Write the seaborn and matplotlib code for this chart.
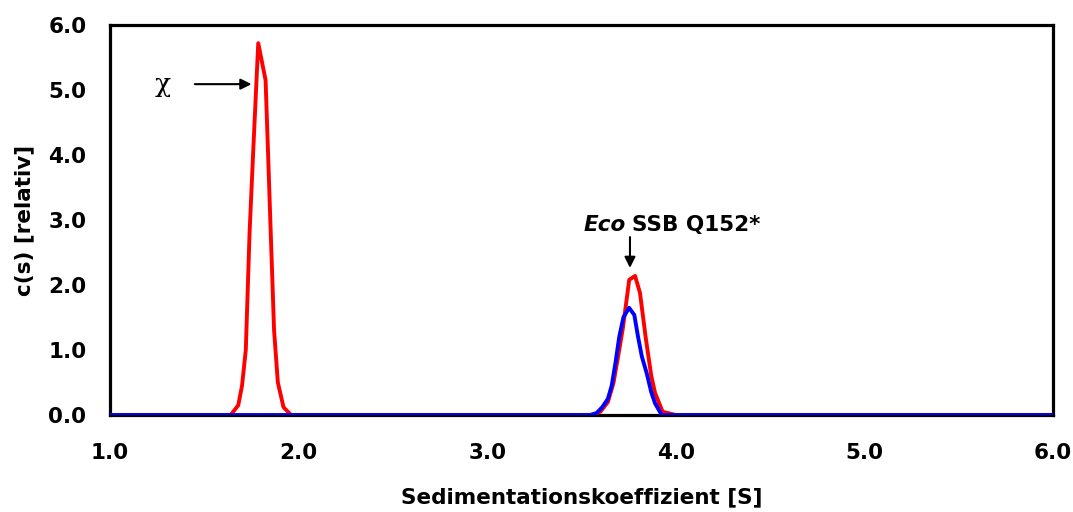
import numpy as np
import pandas as pd
import matplotlib
matplotlib.use("Agg")
import matplotlib.pyplot as plt
import seaborn as sns

# Sedimentation coefficient [S] and c(s) values
s_red = [1.00, 1.64, 1.68, 1.70, 1.72, 1.74, 1.76, 1.786, 1.825, 1.85, 1.87, 1.89, 1.92, 1.96,
         3.56, 3.60, 3.64, 3.67, 3.70, 3.72, 3.753, 3.784, 3.81, 3.84, 3.87, 3.89, 3.93, 4.00, 6.00]
c_red = [0.00, 0.00, 0.15, 0.45, 1.00, 2.80, 4.10, 5.72, 5.15, 3.00, 1.30, 0.50, 0.12, 0.00,
         0.00, 0.05, 0.20, 0.50, 1.00, 1.35, 2.08, 2.14, 1.88, 1.20, 0.60, 0.34, 0.05, 0.00, 0.00]

s_blue = [1.00, 3.545, 3.58, 3.61, 3.64, 3.66, 3.68, 3.70, 3.722, 3.752, 3.78, 3.80, 3.82,
          3.845, 3.87, 3.89, 3.925, 6.00]
c_blue = [0.00, 0.00, 0.03, 0.12, 0.25, 0.45, 0.80, 1.20, 1.50, 1.65, 1.54, 1.20, 0.90,
          0.65, 0.35, 0.18, 0.00, 0.00]

x_ticks = [1.0, 2.0, 3.0, 4.0, 5.0, 6.0]
y_ticks = [0.0, 1.0, 2.0, 3.0, 4.0, 5.0, 6.0]

sns.set_style("white")
plt.rcParams['font.family'] = ['DejaVu Sans']
plt.rcParams['text.color'] = 'black'
plt.rcParams['axes.labelcolor'] = 'black'
plt.rcParams['xtick.labelcolor'] = 'black'
plt.rcParams['ytick.labelcolor'] = 'black'

FS = 15.5

fig = plt.figure(figsize=(10.73, 5.12), dpi=100)
ax = fig.add_axes([110/1073, 97/512, (1053-110)/1073, (415-25)/512])

df_red = pd.DataFrame({"s": s_red, "c": c_red})
df_blue = pd.DataFrame({"s": s_blue, "c": c_blue})
sns.lineplot(data=df_red, x="s", y="c", ax=ax, color="#ff0000", lw=2.8, sort=False, zorder=3)
sns.lineplot(data=df_blue, x="s", y="c", ax=ax, color="#0000ff", lw=2.8, sort=False, zorder=4)

ax.set_xlim(1.0, 6.0)
ax.set_ylim(0.0, 6.0)
ax.set_xticks(x_ticks)
ax.set_yticks(y_ticks)
ax.set_xticklabels([f"{v:.1f}" for v in x_ticks], fontsize=FS, fontweight="bold", color="black")
ax.set_yticklabels([f"{v:.1f}" for v in y_ticks], fontsize=FS, fontweight="bold", color="black")
ax.tick_params(axis="both", direction="out", length=6, width=1, color="#555555")
ax.tick_params(axis="x", pad=14)
ax.tick_params(axis="y", pad=11)

for sp in ax.spines.values():
    sp.set_visible(True)
    sp.set_color("black")
    sp.set_linewidth(2.3)

ax.set_xlabel("Sedimentationskoeffizient [S]", fontsize=FS, fontweight="bold", labelpad=18, color="black")
ax.set_ylabel("c(s) [relativ]", fontsize=FS, fontweight="bold", labelpad=10, color="black")

# chi annotation
ax.text(1.28, 5.09, "χ", fontsize=19, ha="center", va="center", family=["DejaVu Serif"], color="black")
ax.annotate("", xy=(1.765, 5.09), xytext=(1.435, 5.09),
            arrowprops=dict(arrowstyle="-|>", color="black", lw=1.5, mutation_scale=16))

# EcoSSB annotation
ax.text(3.733, 2.92, "Eco", fontsize=FS, fontweight="bold", style="italic", ha="right", va="center", color="black")
ax.text(3.768, 2.92, "SSB Q152*", fontsize=FS, fontweight="bold", ha="left", va="center", color="black")
ax.annotate("", xy=(3.757, 2.22), xytext=(3.757, 2.78),
            arrowprops=dict(arrowstyle="-|>", color="black", lw=1.5, mutation_scale=16))

fig.savefig("out.png", dpi=100)
